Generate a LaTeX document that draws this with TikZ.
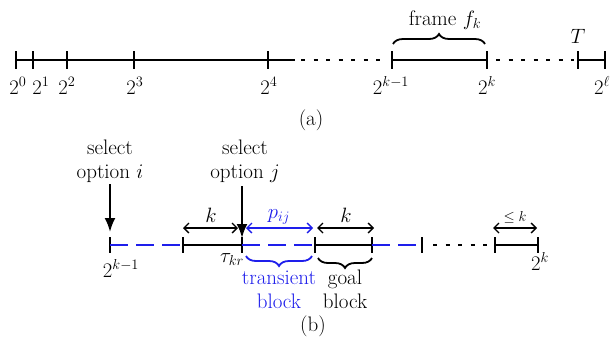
\documentclass[tikz,border=0pt]{standalone}
\usetikzlibrary{arrows.meta,decorations.pathreplacing}
\definecolor{myblue}{RGB}{30,30,235}
\begin{document}
\begin{tikzpicture}[x=1pt,y=-1pt,
  lbl/.style={font=\fontsize{21}{24}\selectfont, inner sep=0pt, anchor=base},
  smalllbl/.style={font=\fontsize{15}{18}\selectfont, inner sep=0pt, anchor=base},
  axis/.style={line width=2.8pt},
  tickmark/.style={line width=2.5pt},
  dotline/.style={line width=2.8pt, dash pattern=on 4pt off 8.5pt},
  bdash/.style={line width=2.8pt, draw=myblue, dash pattern=on 18pt off 8pt},
  darrow/.style={line width=1.4pt, {Straight Barb[length=5pt,width=10pt]}-{Straight Barb[length=5pt,width=10pt]}},
  varrow/.style={line width=2.2pt, -{Latex[length=14pt,width=11pt]}},
  brc/.style={decorate, decoration={brace, amplitude=10pt}, line width=1.8pt},
]
\useasboundingbox (0,0) rectangle (615,343);

% ---------------- (a) ----------------
\foreach \n/\x in {a0/16, a1/33, a2/67, a3/134, a4/268, ak1/392, ak/487, aT/578, al/605}{
  \coordinate (\n) at (\x,60);
  \draw[tickmark] (\x,51) -- (\x,69);
}
\coordinate (ad1s) at (301,60);
\coordinate (ad1e) at (388,60);
\coordinate (ad2s) at (496,60);
\coordinate (ad2e) at (574,60);
\draw[axis] (a0) -- (295,60);
\draw[dotline] (ad1s) -- (ad1e);
\draw[axis] (ak1) -- (ak);
\draw[dotline] (ad2s) -- (ad2e);
\draw[axis] (aT) -- (al);

\node[lbl] (l0) at (18,94) {$2^0$};
\node[lbl] (l1) at (41,94) {$2^1$};
\node[lbl] (l2) at (67,94) {$2^2$};
\node[lbl] (l3) at (135,94) {$2^3$};
\node[lbl] (l4) at (269,94) {$2^4$};
\node[lbl] (lk1) at (391,94) {$2^{k-1}$};
\node[lbl] (lk) at (487,94) {$2^k$};
\node[lbl] (ll) at (602,94) {$2^\ell$};
\node[lbl] (lT) at (578,43) {$T$};

\coordinate (fb1) at (393,44);
\coordinate (fb2) at (485,44);
\draw[brc] (fb1) -- (fb2);
\node[lbl] (frame) at (445,25) {frame $f_k$};
\node[lbl] (capa) at (311,125) {(a)};

% ---------------- (b) ----------------
\foreach \n/\x in {b0/110, b1/183, b2/242, b3/315, b4/372, b5/422, b6/495, b7/538}{
  \coordinate (\n) at (\x,245);
  \draw[tickmark] (\x,237) -- (\x,253);
}
\draw[bdash] (b0) -- (b1);
\draw[axis] (b1) -- (b2);
\draw[bdash] (b2) -- (b3);
\draw[axis] (b3) -- (b4);
\draw[bdash] (b4) -- (b5);
\coordinate (bd1) at (433,245);
\coordinate (bd2) at (490,245);
\draw[dotline] (bd1) -- (bd2);
\draw[axis] (b6) -- (b7);

% select labels and arrows
\node[lbl, align=center] (seli) at (110,178) {select\\option $i$};
\node[lbl, align=center] (selj) at (245,178) {select\\option $j$};
\coordinate (ai1) at (110,184);
\coordinate (ai2) at (110,232);
\coordinate (aj1) at (242,186);
\coordinate (aj2) at (242,238);
\draw[varrow] (ai1) -- (ai2);
\draw[varrow] (aj1) -- (aj2);

% double arrows
\coordinate (k1s) at (183,228);
\coordinate (k1e) at (238,228);
\coordinate (ps) at (246,228);
\coordinate (pe) at (313,228);
\coordinate (k2s) at (317,228);
\coordinate (k2e) at (374,228);
\coordinate (k3s) at (493,228);
\coordinate (k3e) at (537,228);
\draw[darrow] (k1s) -- (k1e);
\draw[darrow, myblue] (ps) -- (pe);
\draw[darrow] (k2s) -- (k2e);
\draw[darrow] (k3s) -- (k3e);
\node[lbl] (lk1b) at (211,222) {$k$};
\node[lbl, text=myblue] (lp) at (279,218) {$p_{ij}$};
\node[lbl] (lk2b) at (346,222) {$k$};
\node[smalllbl] (lk3b) at (515,221) {$\leq k$};

% axis labels
\node[lbl] (b0l) at (121,277) {$2^{k-1}$};
\node[lbl] (b2l) at (232,262) {$\tau_{kr}$};
\node[lbl] (b7l) at (540,270) {$2^k$};

% braces
\coordinate (tb1) at (312,256);
\coordinate (tb2) at (246,256);
\coordinate (gb1) at (372,258);
\coordinate (gb2) at (318,258);
\draw[brc, myblue] (tb1) -- (tb2);
\draw[brc] (gb1) -- (gb2);

\node[lbl, text=myblue, align=center] (trans) at (279,308) {transient\\block};
\node[lbl, align=center] (goal) at (345,308) {goal\\block};
\node[lbl] (capb) at (313,331) {(b)};
\end{tikzpicture}
\end{document}
